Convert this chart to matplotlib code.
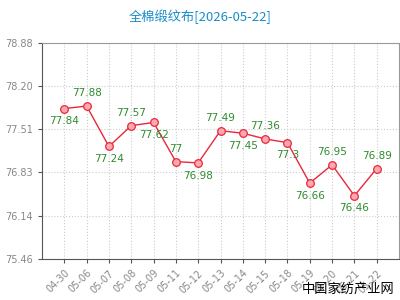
import matplotlib
matplotlib.use("Agg")
import matplotlib.pyplot as plt
import numpy as np

plt.rcParams['font.family'] = ['Noto Sans CJK SC', 'DejaVu Sans']

dates = ['04-30', '05-06', '05-07', '05-08', '05-09', '05-11', '05-12', '05-13',
         '05-14', '05-15', '05-18', '05-19', '05-20', '05-21', '05-22']
prices = [77.84, 77.88, 77.24, 77.57, 77.62, 77.0, 76.98, 77.49,
          77.45, 77.36, 77.3, 76.66, 76.95, 76.46, 76.89]
labels = ['77.84', '77.88', '77.24', '77.57', '77.62', '77', '76.98', '77.49',
          '77.45', '77.36', '77.3', '76.66', '76.95', '76.46', '76.89']
label_above = [False, True, False, True, False, True, False, True,
               False, True, False, False, True, False, True]
yticks = [75.46, 76.14, 76.83, 77.51, 78.20, 78.88]

fig = plt.figure(figsize=(4, 3), dpi=100)
ax = fig.add_axes([0.105, 0.137, 0.8925, 0.72])

x = np.arange(len(dates))
ax.plot(x, prices, color='#e8283c', lw=1, marker='o', ms=5.5,
        mfc='#ffa8b0', mec='#e8283c', mew=0.9, zorder=3)

for xi, v, t, up in zip(x, prices, labels, label_above):
    off = 5.5 if up else -5.5
    ax.annotate(t, (xi, v), xytext=(0, off), textcoords='offset points',
                ha='center', va='bottom' if up else 'top',
                fontsize=7.5, color='#2e8b2e', family='DejaVu Sans')

ax.set_xlim(-1, len(dates))
ax.set_ylim(yticks[0], yticks[-1])
ax.set_yticks(yticks)
ax.set_yticklabels(['%.2f' % t for t in yticks], color='#888888', fontsize=7,
                   family='DejaVu Sans')
ax.set_xticks(x)
ax.set_xticklabels(dates, rotation=45, ha='right', rotation_mode='anchor',
                   color='#888888', fontsize=7, family='DejaVu Sans')
ax.tick_params(length=3, color='#555555', width=0.8)

ax.grid(True, color='#cccccc', linestyle=':', lw=0.8)
ax.set_axisbelow(True)
for s in ['left', 'bottom']:
    ax.spines[s].set_color('#555555')
for s in ['top', 'right']:
    ax.spines[s].set_color('#999999')
    ax.spines[s].set_linewidth(0.8)

fig.text(0.5, 0.945, '全棉缎纹布[2026-05-22]', ha='center', va='center',
         fontsize=9.5, color='#1a8cc8')
fig.text(0.985, 0.035, '中国家纺产业网', ha='right', va='center',
         fontsize=9.5, color='black')

fig.savefig('out.png', dpi=100)
